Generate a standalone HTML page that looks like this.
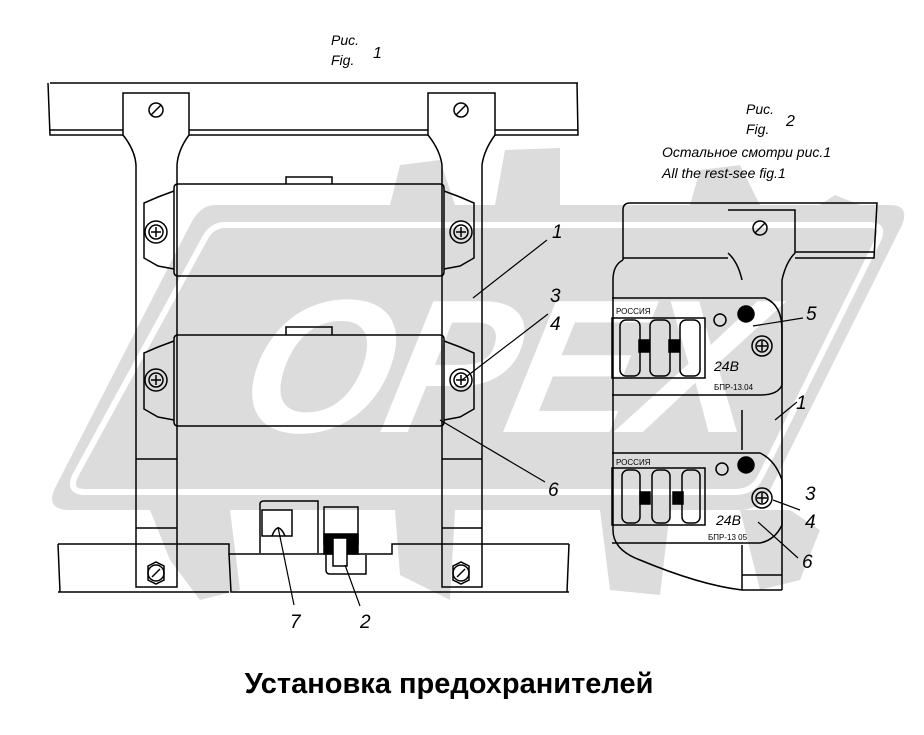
<!DOCTYPE html>
<html><head><meta charset="utf-8"><style>
html,body{margin:0;padding:0;background:#fff}
svg{display:block}
text{font-family:"Liberation Sans","DejaVu Sans",sans-serif}
</style></head><body>
<svg width="924" height="735" viewBox="0 0 924 735" xmlns="http://www.w3.org/2000/svg">
<!-- watermark -->
<g fill="#dcdcdc">
<path d="M215 205 L890 205 Q910 205 902 225 L770 490 Q760 510 740 510 L70 510 Q45 510 55 488 L190 225 Q200 205 215 205Z"/>
<polygon points="390,205 400,165 440,160 455,205"/>
<polygon points="495,205 505,150 560,148 560,205"/>
<polygon points="690,205 700,170 740,165 760,205"/>
<polygon points="820,205 835,195 860,205"/>
<polygon points="150,510 170,560 200,600 240,590 230,510"/>
<polygon points="395,510 400,575 450,600 455,510"/>
<polygon points="600,510 610,590 660,595 670,510"/>
<polygon points="740,510 760,590 800,580 820,530 790,510"/>
</g>
<path d="M225 225 L870 225 Q885 225 878 240 L760 478 Q752 492 735 492 L85 492 Q68 492 75 476 L205 238 Q212 225 225 225Z" fill="none" stroke="#fff" stroke-width="6"/>
<text x="235" y="432" font-size="190" font-weight="bold" font-style="italic" fill="#fff" transform="skewX(-12) translate(90 0)" style="letter-spacing:-4px">OPEX</text>

<g fill="none" stroke="#000" stroke-width="1.5">
<!-- fig1 top rail -->
<path d="M50 83 L578 83 M48 83 L50 135 L123 135 M189 135 L428 135 M495 135 L578 135 L577 83"/>
<path d="M50 130 L123 130 M189 130 L428 130 M495 130 L578 130"/>
<!-- left bracket -->
<path d="M123 93 L189 93 L189 135 Q178 150 177 165 L177 587 L136 587 L136 165 Q135 150 123 135 Z"/>
<circle cx="156" cy="110" r="7"/><path d="M151 115 L161 105"/>
<!-- right bracket -->
<path d="M428 93 L495 93 L495 135 Q484 150 482 165 L482 587 L442 587 L442 165 Q440 150 428 135 Z"/>
<circle cx="461" cy="110" r="7"/><path d="M456 115 L466 105"/>
<!-- upper box -->
<path d="M178 184 L440 184 Q444 184 444 188 L444 272 Q444 276 440 276 L178 276 Q174 276 174 272 L174 188 Q174 184 178 184Z"/>
<path d="M286 184 L286 177 L332 177 L332 184"/>
<path d="M174 191 L158 197 L144 203 L144 258 L158 266 L174 269"/>
<path d="M444 191 L460 197 L474 203 L474 258 L460 266 L444 269"/>
<circle cx="156" cy="232" r="11"/><circle cx="156" cy="232" r="7"/><path d="M151 232 H161 M156 227 V237"/>
<circle cx="461" cy="232" r="11"/><circle cx="461" cy="232" r="7"/><path d="M456 232 H466 M461 227 V237"/>
<!-- lower box -->
<path d="M178 335 L440 335 Q444 335 444 339 L444 422 Q444 426 440 426 L178 426 Q174 426 174 422 L174 339 Q174 335 178 335Z"/>
<path d="M286 335 L286 327 L332 327 L332 335"/>
<path d="M174 341 L158 347 L144 353 L144 409 L158 417 L174 420"/>
<path d="M444 341 L460 347 L474 353 L474 409 L460 417 L444 420"/>
<circle cx="156" cy="380" r="11"/><circle cx="156" cy="380" r="7"/><path d="M151 380 H161 M156 375 V385"/>
<circle cx="461" cy="380" r="11"/><circle cx="461" cy="380" r="7"/><path d="M456 380 H466 M461 375 V385"/>
<path d="M136 459 H177 M442 459 H482 M136 528 H177 M442 528 H482"/>
<!-- bottom rail -->
<path d="M58 544 L229 544 L229 554 L392 554 L392 544 L569 544 M58 592 L229 592 M392 592 L569 592 M58 544 L60 592 M569 544 L567 592"/>
<path d="M229 554 L231 592 L392 592"/>
<circle cx="156" cy="573" r="8"/><path d="M152 577 L160 569"/>
<polygon points="148,566 156,562 164,566 164,580 156,584 148,580"/>
<circle cx="461" cy="573" r="8"/><path d="M457 577 L465 569"/>
<polygon points="453,566 461,562 469,566 469,580 461,584 453,580"/>
<!-- clips -->
<path d="M260 553 L260 504 Q260 501 264 501 L318 501 L318 553"/>
<path d="M262 510 L292 510 L292 536 L262 536 Z"/><path d="M272 536 Q278 520 285 536"/>
<path d="M324 545 L324 507 L358 507 L358 545"/>
<rect x="324" y="534" width="34" height="20" fill="#000"/>
<rect x="333" y="538" width="14" height="28" fill="#fff"/>
<path d="M326 555 L326 570 Q326 574 330 574 L366 574 L366 555"/>
<!-- leaders fig1 -->
<path d="M473 298 L547 240 M462 380 L548 314 M440 420 L545 482 M278 527 L294 605 M345 565 L360 606" stroke-width="1.2"/>
</g>

<!-- fig2 -->
<g fill="none" stroke="#000" stroke-width="1.5">
<path d="M623 260 L623 210 Q623 203 630 203 L877 203 L874 258 L795 258 M728 258 L623 258"/>
<path d="M795 252 L874 252"/>
<path d="M728 210 L795 210 L795 253 Q786 262 782 280 L782 590 M728 253 Q738 262 742 280"/>
<circle cx="760" cy="228" r="7"/><path d="M755 233 L765 223"/>
<path d="M623 260 Q613 265 613 280 L613 530 Q613 550 640 560 Q700 585 742 590 L782 590"/>
<path d="M742 410 L742 450 M742 545 L742 590 M742 575 L782 575"/>
<!-- block 1 -->
<path d="M612 298 L765 298 Q782 305 782 330 L782 385 Q778 395 760 395 L612 395"/>
<rect x="612" y="318" width="93" height="60"/>
<rect x="620" y="320" width="20" height="56" rx="6"/><rect x="650" y="320" width="20" height="56" rx="6"/><rect x="680" y="320" width="20" height="56" rx="6"/>
<rect x="639" y="340" width="10" height="12" fill="#000"/><rect x="669" y="340" width="10" height="12" fill="#000"/>
<circle cx="720" cy="320" r="6"/><circle cx="746" cy="314" r="8" fill="#000"/>
<circle cx="762" cy="346" r="10"/><circle cx="762" cy="346" r="6"/><path d="M757 346 H767 M762 341 V351"/>
<!-- block 2 -->
<path d="M612 453 L760 453 Q775 460 782 480 L782 525 Q775 540 760 543 L612 543"/>
<rect x="612" y="468" width="93" height="57"/>
<rect x="622" y="470" width="18" height="53" rx="6"/><rect x="652" y="470" width="18" height="53" rx="6"/><rect x="682" y="470" width="18" height="53" rx="6"/>
<rect x="640" y="492" width="10" height="12" fill="#000"/><rect x="673" y="492" width="10" height="12" fill="#000"/>
<circle cx="722" cy="469" r="6"/><circle cx="746" cy="465" r="8" fill="#000"/>
<circle cx="762" cy="498" r="10"/><circle cx="762" cy="498" r="6"/><path d="M757 498 H767 M762 493 V503"/>
<path d="M753 326 L803 318 M775 420 L797 402 M773 500 L800 510 M758 522 L798 558" stroke-width="1.2"/>
</g>
<g font-size="8" fill="#000"><text x="616" y="314">РОССИЯ</text><text x="714" y="390">БПР-13.04</text><text x="616" y="465">РОССИЯ</text><text x="708" y="540">БПР-13 05</text></g>
<g font-style="italic" fill="#000" font-size="14"><text x="714" y="371">24В</text><text x="716" y="525">24В</text></g>

<!-- labels -->
<g font-style="italic" font-size="19" fill="#000">
<text x="552" y="238">1</text><text x="550" y="302">3</text><text x="550" y="330">4</text><text x="548" y="496">6</text>
<text x="290" y="628">7</text><text x="360" y="628">2</text>
<text x="806" y="320">5</text><text x="796" y="409">1</text><text x="805" y="500">3</text><text x="805" y="528">4</text><text x="802" y="568">6</text>
</g>
<g font-style="italic" font-size="14" fill="#000">
<text x="331" y="45">Рис.</text><text x="331" y="65">Fig.</text><text x="373" y="58" font-size="16">1</text>
<text x="746" y="114">Рис.</text><text x="746" y="134">Fig.</text><text x="786" y="126" font-size="16">2</text>
<text x="662" y="157">Остальное смотри рис.1</text><text x="662" y="178">All the rest-see fig.1</text>
</g>
<text x="449" y="693" text-anchor="middle" font-size="29" font-weight="bold" fill="#000">Установка предохранителей</text>
</svg>
</body></html>
